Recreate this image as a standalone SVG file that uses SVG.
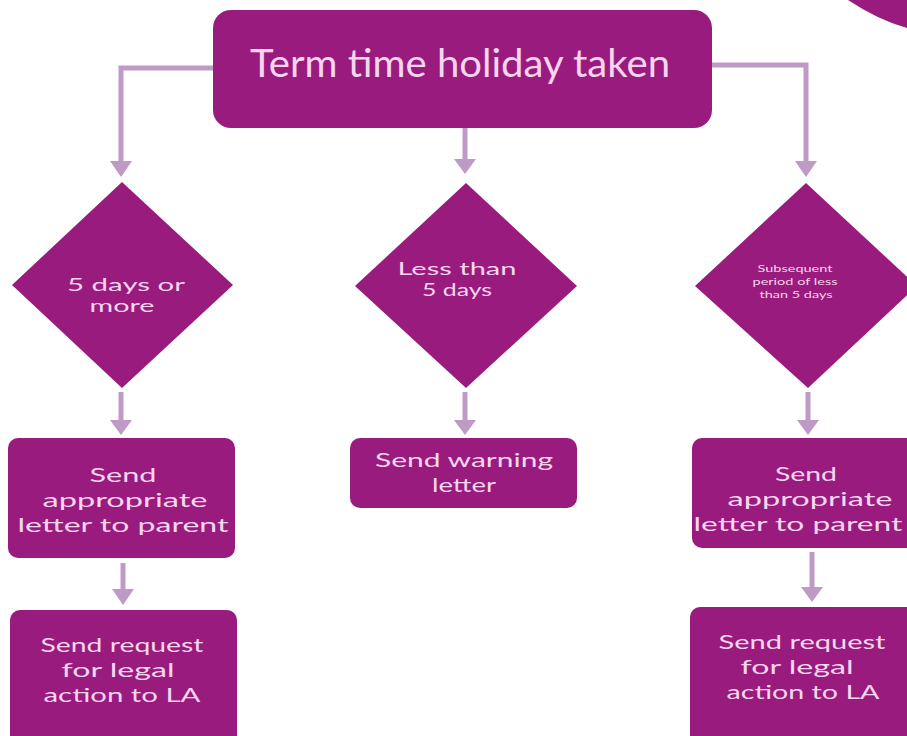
<svg xmlns="http://www.w3.org/2000/svg" width="907" height="736" viewBox="0 0 907 736">
<style>
.n{fill:#9a1b7e}
.t{fill:#f6d6ee;font-family:Lato,"Liberation Sans",sans-serif;text-anchor:middle}
.c{fill:none;stroke:#c09ac6;stroke-width:5}
.h{fill:#c09ac6}
.b{font-size:20px}
.d{font-size:17px}
.s{font-size:10px}
</style>
<rect width="907" height="736" fill="#fff"/>
<path d="M848,0 Q878,20 907,28 V0 Z" class="n"/>
<g id="connectors">
<path class="c" d="M213,68 H121 V162"/>
<polygon class="h" points="110,161 132,161 121,177"/>
<path class="c" d="M465,128 V160"/>
<polygon class="h" points="454,159 476,159 465,174"/>
<path class="c" d="M712,65 H806 V162"/>
<polygon class="h" points="795,161 817,161 806,177"/>
<path class="c" d="M121,392 V421"/>
<polygon class="h" points="110,420 132,420 121,435"/>
<path class="c" d="M465,392 V421"/>
<polygon class="h" points="454,420 476,420 465,435"/>
<path class="c" d="M808,392 V421"/>
<polygon class="h" points="797,420 819,420 808,435"/>
<path class="c" d="M123,563 V590"/>
<polygon class="h" points="112,589 134,589 123,605"/>
<path class="c" d="M812,552 V588"/>
<polygon class="h" points="801,587 823,587 812,602"/>
</g>
<g id="start">
<rect class="n" x="213" y="10" width="499" height="118" rx="18"/>
<text class="t" x="460" y="77" font-size="39" textLength="420" lengthAdjust="spacingAndGlyphs">Term time holiday taken</text>
</g>
<g id="d1">
<path class="n" d="M122,182 L233,285 L122,388 L12,285 Z"/>
<text class="t d" x="126" y="291" textLength="118" lengthAdjust="spacingAndGlyphs">5 days or</text>
<text class="t d" x="122" y="312" textLength="65" lengthAdjust="spacingAndGlyphs">more</text>
</g>
<g id="d2">
<path class="n" d="M466,183 L577,286 L466,388 L355,286 Z"/>
<text class="t d" x="457" y="275" textLength="119" lengthAdjust="spacingAndGlyphs">Less than</text>
<text class="t d" x="457" y="296" textLength="70" lengthAdjust="spacingAndGlyphs">5 days</text>
</g>
<g id="d3">
<path class="n" d="M806,183 L917,286 L808,388 L695,286 Z"/>
<text class="t s" x="795" y="272" textLength="75" lengthAdjust="spacingAndGlyphs">Subsequent</text>
<text class="t s" x="795" y="285" textLength="85" lengthAdjust="spacingAndGlyphs">period of less</text>
<text class="t s" x="796" y="298" textLength="73" lengthAdjust="spacingAndGlyphs">than 5 days</text>
</g>
<g id="b1">
<rect class="n" x="8" y="438" width="227" height="120" rx="10"/>
<text class="t b" x="123" y="482" textLength="67" lengthAdjust="spacingAndGlyphs">Send</text>
<text class="t b" x="125" y="507" textLength="165" lengthAdjust="spacingAndGlyphs">appropriate</text>
<text class="t b" x="123" y="532" textLength="211" lengthAdjust="spacingAndGlyphs">letter to parent</text>
</g>
<g id="b2">
<rect class="n" x="350" y="438" width="227" height="70" rx="10"/>
<text class="t b" x="464" y="467" textLength="178" lengthAdjust="spacingAndGlyphs">Send warning</text>
<text class="t b" x="464" y="492" textLength="64" lengthAdjust="spacingAndGlyphs">letter</text>
</g>
<g id="b3">
<rect class="n" x="692" y="438" width="225" height="110" rx="10"/>
<text class="t b" x="806" y="481" textLength="62" lengthAdjust="spacingAndGlyphs">Send</text>
<text class="t b" x="810" y="506" textLength="165" lengthAdjust="spacingAndGlyphs">appropriate</text>
<text class="t b" x="798" y="531" textLength="209" lengthAdjust="spacingAndGlyphs">letter to parent</text>
</g>
<g id="b4">
<rect class="n" x="10" y="610" width="227" height="140" rx="10"/>
<text class="t b" x="122" y="652" textLength="163" lengthAdjust="spacingAndGlyphs">Send request</text>
<text class="t b" x="118" y="677" textLength="113" lengthAdjust="spacingAndGlyphs">for legal</text>
<text class="t b" x="122" y="702" textLength="157" lengthAdjust="spacingAndGlyphs">action to LA</text>
</g>
<g id="b5">
<rect class="n" x="690" y="607" width="227" height="140" rx="10"/>
<text class="t b" x="802" y="649" textLength="167" lengthAdjust="spacingAndGlyphs">Send request</text>
<text class="t b" x="797" y="674" textLength="113" lengthAdjust="spacingAndGlyphs">for legal</text>
<text class="t b" x="803" y="699" textLength="153" lengthAdjust="spacingAndGlyphs">action to LA</text>
</g>
</svg>
